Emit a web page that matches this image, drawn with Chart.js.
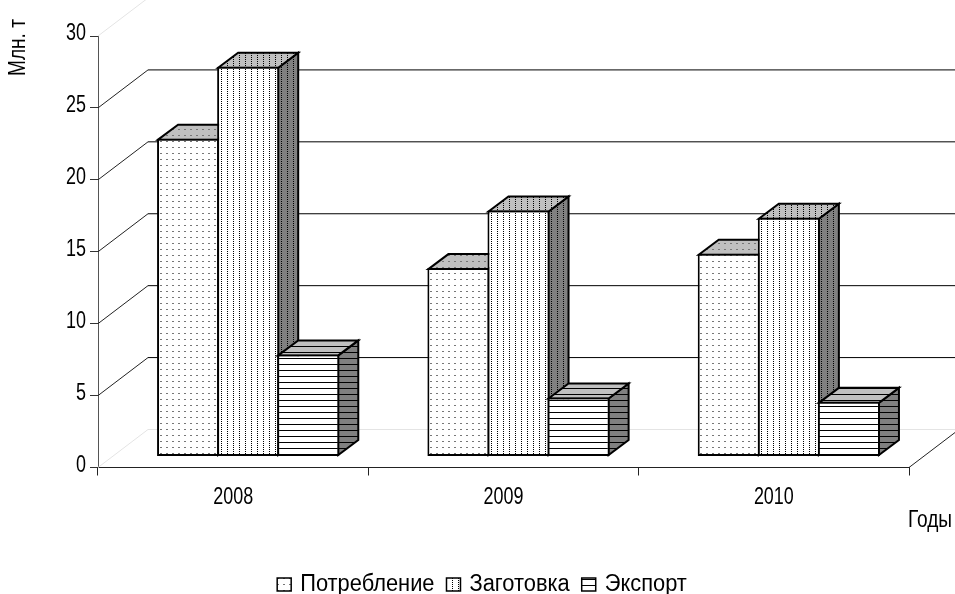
<!DOCTYPE html>
<html>
<head>
<meta charset="utf-8">
<style>html,body{margin:0;padding:0;background:#fff}canvas{display:block}</style>
<script src="https://cdn.jsdelivr.net/npm/chart.js@4"></script>
</head>
<body>
<canvas id="chart" width="955" height="594"></canvas>
<script>
const years = ['2008', '2009', '2010'];
const consumption = [22.1, 13.1, 14.1];
const procurement = [27.1, 17.1, 16.6];
const exports_ = [7.1, 4.1, 3.8];
const yTicks = [0, 5, 10, 15, 20, 25, 30];
const seriesNames = ['Потребление', 'Заготовка', 'Экспорт'];
const xTitle = 'Годы';
const yTitle = 'Млн. т';

const FONT = '"Liberation Sans", Arial, sans-serif';
const wall = { dx: 50, dy: -38 };   // depth of the back wall
const barDepth = { dx: 20, dy: -15 };
const barShift = { dx: 15, dy: -11 }; // bars stand a little inside the floor

const canvas = document.getElementById('chart');
const ctx0 = canvas.getContext('2d');

// the original font is narrower than Liberation, squeeze the text around its anchor
const LEGEND_SQUEEZE = 0.95;
const LEGEND_GAP_FIX = 2.5;
const plainFill = ctx0.fillText;
const plainMeasure = ctx0.measureText;
ctx0.fillText = function (s, x, y, w) {
    const digits = /^\d+$/.test(s);
    const legend = seriesNames.includes(s);
    const k = digits ? 0.78 : legend ? LEGEND_SQUEEZE : 0.83;
    this.save();
    this.translate(legend ? x - LEGEND_GAP_FIX : x, digits ? y - 2 : y);
    this.scale(k, 1);
    plainFill.call(this, s, 0, 0);
    this.restore();
};
ctx0.measureText = function (s) {
    const m = plainMeasure.call(this, s);
    if (!seriesNames.includes(s)) return m;
    return { width: m.width * LEGEND_SQUEEZE - LEGEND_GAP_FIX };
};

// 6x6 tiles, same as the old office hatch fills
function hatch(bg, paint) {
    const c = document.createElement('canvas');
    c.width = 6;
    c.height = 6;
    const g = c.getContext('2d');
    g.fillStyle = bg;
    g.fillRect(0, 0, 6, 6);
    paint(g);
    return c;
}
const dots = g => { g.fillStyle = '#777'; g.fillRect(1, 2, 2, 1); };
const vdots = g => { g.fillStyle = '#000'; g.fillRect(2, 0, 1, 1); g.fillRect(2, 2, 1, 1); g.fillRect(2, 4, 1, 1); };
const hlines = g => { g.fillStyle = '#000'; g.fillRect(0, 3, 6, 1); };
const fills = [dots, vdots, hlines].map(p => ({
    front: ctx0.createPattern(hatch('#fff', p), 'repeat'),
    top: ctx0.createPattern(hatch('#c0c0c0', p), 'repeat'),
    side: ctx0.createPattern(hatch('#808080', p), 'repeat'),
}));

function poly(ctx, pts, fill) {
    ctx.beginPath();
    pts.forEach((p, i) => (i ? ctx.lineTo(p[0], p[1]) : ctx.moveTo(p[0], p[1])));
    ctx.closePath();
    ctx.fillStyle = fill;
    ctx.fill();
    ctx.stroke();
}

const wallPlugin = {
    id: 'wall',
    beforeDatasetsDraw(chart) {
        const { ctx, chartArea: a, scales: { y } } = chart;
        ctx.save();
        ctx.lineWidth = 1;
        y.ticks.forEach(t => {
            const py = y.getPixelForValue(t.value);
            const faint = t.value === 0 || t.value === 30;
            ctx.strokeStyle = faint ? '#e4e4e4' : '#222';
            ctx.beginPath();
            ctx.moveTo(a.left, py);
            ctx.lineTo(a.left + wall.dx, py + wall.dy);
            ctx.stroke();
            ctx.strokeStyle = faint ? '#e4e4e4' : '#000';
            ctx.beginPath();
            ctx.moveTo(a.left + wall.dx, py + wall.dy);
            ctx.lineTo(a.right + wall.dx, py + wall.dy);
            ctx.stroke();
        });
        // right edge of the floor
        const py = y.getPixelForValue(0);
        ctx.strokeStyle = '#222';
        ctx.beginPath();
        ctx.moveTo(a.right, py);
        ctx.lineTo(a.right + wall.dx, py + wall.dy);
        ctx.stroke();

        // left to right, each bar has to cover the depth of the previous one
        ctx.translate(barShift.dx, barShift.dy);
        ctx.strokeStyle = '#000';
        ctx.lineWidth = 2;
        chart.data.datasets.forEach((d, i) => {
            const meta = chart.getDatasetMeta(i);
            const f = fills[i];
            meta.data.forEach(el => {
                const p = el.getProps(['x', 'y', 'base', 'width'], true);
                const l = p.x - p.width / 2 + 1, r = p.x + p.width / 2 - 1;
                const t = p.y + 1, b = p.base - 1;
                const dx = barDepth.dx, dy = barDepth.dy;
                poly(ctx, [[r, t], [r + dx, t + dy], [r + dx, b + dy], [r, b]], f.side);
                poly(ctx, [[l, t], [l + dx, t + dy], [r + dx, t + dy], [r, t]], f.top);
            });
            meta.controller.draw();
        });
        ctx.restore();
        return false;
    },
    afterLayout(chart) {
        const l = chart.legend;
        l.left += 27.5; l.right += 27.5;
        l.top += 12; l.bottom += 12;
    },
    afterDraw(chart) {
        const { ctx } = chart;
        ctx.save();
        ctx.fillStyle = '#000';
        ctx.font = '23px ' + FONT;
        ctx.textBaseline = 'middle';
        ctx.textAlign = 'right';
        ctx.fillText(xTitle, 952, 521);
        ctx.translate(19, 47.5);
        ctx.rotate(-Math.PI / 2);
        ctx.textAlign = 'center';
        ctx.fillText(yTitle, 0, 0);
        ctx.restore();
    },
};

new Chart(canvas, {
    type: 'bar',
    data: {
        labels: years,
        datasets: [consumption, procurement, exports_].map((values, i) => ({
            label: seriesNames[i],
            data: values,
            backgroundColor: fills[i].front,
            borderColor: '#000',
            borderWidth: 2,
            borderSkipped: false,
            barPercentage: 62 / 60, // neighbours share one border
            categoryPercentage: 2 / 3,
        })),
    },
    plugins: [wallPlugin],
    options: {
        responsive: false,
        animation: false,
        layout: { padding: { top: 36, right: 46 } },
        plugins: {
            tooltip: { enabled: false },
            legend: {
                position: 'bottom',
                labels: {
                    color: '#000',
                    font: { family: FONT, size: 23 },
                    boxWidth: 14,
                    boxHeight: 13,
                    padding: 12,
                    generateLabels: chart => chart.data.datasets.map((d, i) => ({
                        text: d.label,
                        fillStyle: fills[i].front,
                        strokeStyle: '#000',
                        lineWidth: 1.5,
                        datasetIndex: i,
                    })),
                },
            },
        },
        scales: {
            x: {
                afterFit: s => { s.height = 81.5; },
                border: { color: '#222', width: 1 },
                grid: { drawOnChartArea: false, tickLength: 8, color: '#222' },
                ticks: { color: '#000', font: { family: FONT, size: 23 }, padding: 10, maxRotation: 0 },
            },
            y: {
                min: 0,
                max: 30,
                afterFit: s => { s.width = 98; },
                afterBuildTicks: s => { s.ticks = yTicks.map(v => ({ value: v })); },
                border: { color: '#555', width: 1 },
                grid: { drawOnChartArea: false, tickLength: 8, color: '#333' },
                ticks: { color: '#000', font: { family: FONT, size: 23 }, padding: 4 },
            },
        },
    },
});
</script>
</body>
</html>
